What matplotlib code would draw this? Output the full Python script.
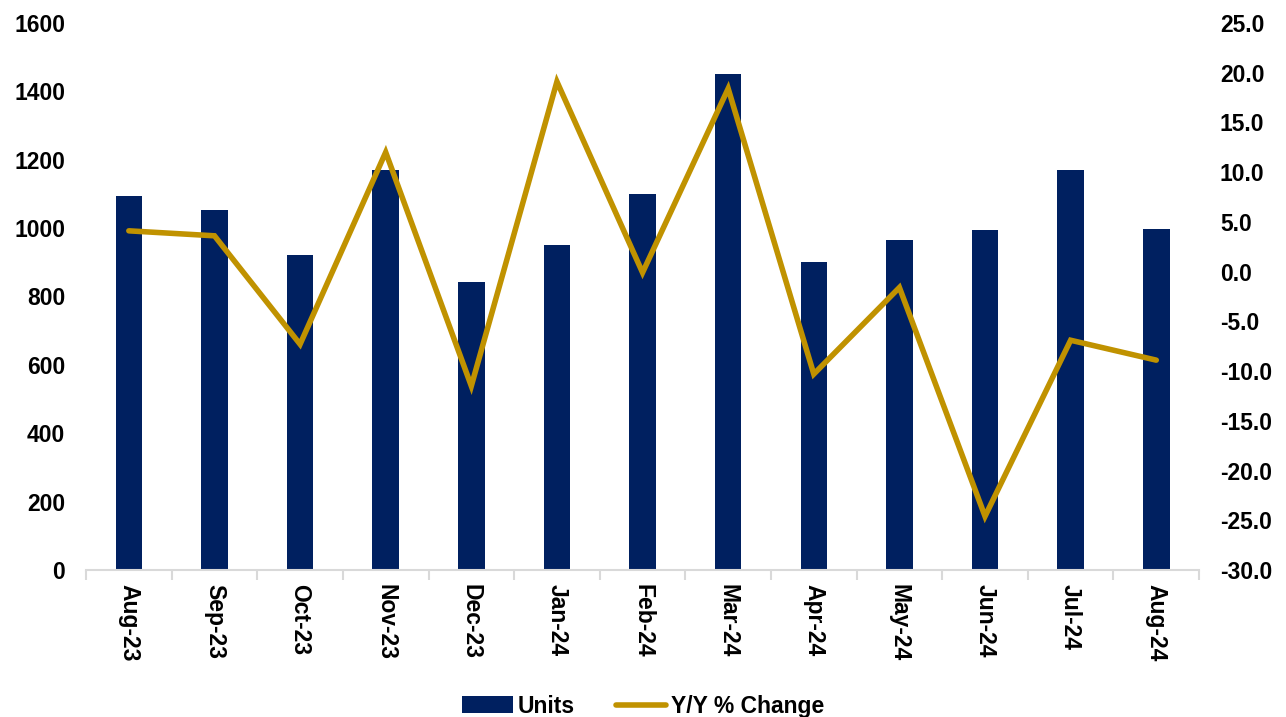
import numpy as np
import matplotlib
matplotlib.use("Agg")
from matplotlib import pyplot as plt
from matplotlib.ticker import FormatStrFormatter

months = ["Aug-23", "Sep-23", "Oct-23", "Nov-23", "Dec-23", "Jan-24", "Feb-24",
          "Mar-24", "Apr-24", "May-24", "Jun-24", "Jul-24", "Aug-24"]
units = [1095, 1052, 922, 1171, 842, 952, 1101, 1451, 900, 964, 993, 1171, 996]
yoy_change = [4.1, 3.6, -7.3, 12.0, -11.5, 19.1, -0.1, 18.4, -10.3, -1.6, -24.6, -6.9, -8.9]

NAVY = "#002060"
GOLD = "#C09200"
GRID = "#D9D9D9"

plt.rcParams["font.family"] = ["Liberation Sans", "DejaVu Sans"]
plt.rcParams["font.weight"] = "bold"

fig = plt.figure(figsize=(12.86, 7.17), dpi=100)
ax = fig.add_axes([0.0669, 0.205, 0.8655, 0.763])
x = np.arange(len(months))

bars = ax.bar(x, units, width=0.31, color=NAVY, label="Units")
ax.set_xlim(-0.5, len(months) - 0.5)
ax.set_ylim(0, 1600)
ax.set_yticks(range(0, 1601, 200))
ax.set_xticks(x)
ax.set_xticklabels(months, rotation=270, fontsize=16.5, fontweight="bold")
ax.set_xticks(np.arange(-0.5, len(months), 1), minor=True)
ax.tick_params(axis="x", which="major", length=0, pad=10)
ax.tick_params(axis="x", which="minor", length=7, width=1.5, color=GRID)
ax.tick_params(axis="y", length=0, pad=15, labelsize=16.5)
for lbl in ax.get_yticklabels():
    lbl.set_fontweight("bold")
for side in ["top", "left", "right"]:
    ax.spines[side].set_visible(False)
ax.spines["bottom"].set_color(GRID)
ax.spines["bottom"].set_linewidth(1.5)

ax2 = ax.twinx()
line, = ax2.plot(x, yoy_change, color=GOLD, linewidth=4.0, solid_capstyle="round",
                 solid_joinstyle="miter", label="Y/Y % Change")
ax2.set_ylim(-30, 25)
ax2.set_yticks(np.arange(-30, 25.1, 5))
ax2.yaxis.set_major_formatter(FormatStrFormatter("%.1f"))
ax2.tick_params(axis="y", length=0, pad=15, labelsize=16.5)
for lbl in ax2.get_yticklabels():
    lbl.set_fontweight("bold")
for side in ["top", "left", "right", "bottom"]:
    ax2.spines[side].set_visible(False)

fig.legend([bars, line], ["Units", "Y/Y % Change"], loc="lower center",
           bbox_to_anchor=(0.5, -0.03), ncol=2, frameon=False,
           prop={"size": 16.5, "weight": "bold"}, handlelength=2.2,
           handleheight=0.75, handletextpad=0.2, columnspacing=1.8)

fig.savefig("out.png", dpi=100)
